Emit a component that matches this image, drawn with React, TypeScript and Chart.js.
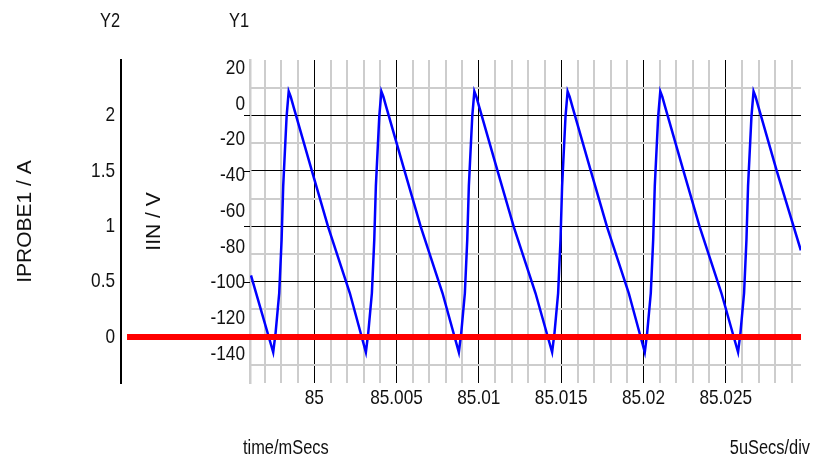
import React, { useEffect, useRef } from 'react';
import { Chart, registerables } from 'chart.js';

Chart.register(...registerables);

// IIN waveform (Y1, volts) against time (ms)
const timeMs = [
  84.99616,
  84.99751, 84.997656, 84.997874, 84.99802, 84.998117, 84.998324, 84.998451, 84.998573, 84.998755, 84.999842, 85.00085, 85.002168,
  85.003139, 85.003285, 85.003503, 85.003649, 85.003746, 85.003953, 85.00408, 85.004202, 85.004384, 85.005471, 85.006479, 85.007797,
  85.008787, 85.008933, 85.009151, 85.009297, 85.009394, 85.009601, 85.009728, 85.00985, 85.010032, 85.011119, 85.012127, 85.013445,
  85.014452, 85.014598, 85.014816, 85.014962, 85.015059, 85.015266, 85.015393, 85.015515, 85.015697, 85.016784, 85.017792, 85.01911,
  85.020081, 85.020227, 85.020445, 85.020591, 85.020688, 85.020895, 85.021022, 85.021144, 85.021326, 85.022413, 85.023421, 85.024739,
  85.025747, 85.025893, 85.026111, 85.026257, 85.026354, 85.026561, 85.026688, 85.02681, 85.026992, 85.028079,
  85.02956,
];
const iinV = [
  -96,
  -139, -128, -106, -76, -46, -7, 7, 4, -2, -37, -69, -106,
  -139, -128, -106, -76, -46, -7, 7, 4, -2, -37, -69, -106,
  -139, -128, -106, -76, -46, -7, 7, 4, -2, -37, -69, -106,
  -139, -128, -106, -76, -46, -7, 7, 4, -2, -37, -69, -106,
  -139, -128, -106, -76, -46, -7, 7, 4, -2, -37, -69, -106,
  -139, -128, -106, -76, -46, -7, 7, 4, -2, -37,
  -82,
];

// IPROBE1 trace (Y2, amps)
const probeTimeMs = [84.98863, 85.02957];
const iprobeA = [0, 0];

// axes
const xRange = [84.9961, 85.02957];
const xMajorTicks = [85, 85.005, 85.01, 85.015, 85.02, 85.025];
const xTickLabels = ['85', '85.005', '85.01', '85.015', '85.02', '85.025'];
const xMinorStep = 0.001;

const y1Range = [-156.2, 24.5];
const y1Ticks = [20, 0, -20, -40, -60, -80, -100, -120, -140];
const y1TickLabels = ['20', '0', '-20', '-40', '-60', '-80', '-100', '-120', '-140'];

const y2Range = [-0.415, 2.5];
const y2MajorTicks = [0, 0.5, 1, 1.5, 2];
const y2TickLabels = ['0', '0.5', '1', '1.5', '2'];
const y2MinorTicks = [-0.25, 0.25, 0.75, 1.25, 1.75, 2.25];

const NARROW = "'Liberation Sans Narrow', 'Liberation Sans', Arial, sans-serif";
const REGULAR = "'Liberation Sans', Arial, sans-serif";
const GRAY = '#cdcdcd';
const TEXT = '#111';
const NARROW_SCALE = 0.82;

const findIdx = (arr: number[], v: number) => arr.findIndex((m) => Math.abs(m - v) < 1e-7);

const xGridValues = (() => {
  const out: number[] = [];
  const a = Math.ceil(xRange[0] / xMinorStep - 1e-6);
  const b = Math.floor(xRange[1] / xMinorStep + 1e-6);
  for (let k = a; k <= b; k++) out.push(k / 1000);
  return out;
})();

const extras = {
  id: 'extras',
  beforeDatasetsDraw(chart: any) {
    const { ctx, chartArea, scales } = chart;
    const y2 = scales.y2;
    ctx.save();
    ctx.strokeStyle = '#000';
    ctx.lineWidth = 1;
    y2MajorTicks.forEach((v) => {
      const y = Math.round(y2.getPixelForValue(v)) + 0.5;
      ctx.beginPath();
      ctx.moveTo(chartArea.left - 6, y);
      ctx.lineTo(chartArea.left, y);
      ctx.stroke();
    });
    ctx.restore();
  },
  afterDraw(chart: any) {
    const { ctx, chartArea, scales } = chart;
    ctx.save();
    ctx.fillStyle = TEXT;
    ctx.font = `20px ${NARROW}`;
    ctx.textBaseline = 'middle';
    ctx.textAlign = 'center';
    ctx.fillText('Y2', scales.y2.right - 11, chartArea.top - 39);
    ctx.fillText('Y1', chartArea.left - 11, chartArea.top - 39);
    ctx.textAlign = 'left';
    ctx.fillText('time/mSecs', chartArea.left - 7, 448);
    ctx.textAlign = 'right';
    ctx.fillText('5uSecs/div', chartArea.right + 9, 448);
    ctx.restore();
  },
};

export default function App() {
  const ref = useRef<HTMLCanvasElement>(null);
  useEffect(() => {
    const canvas = ref.current;
    if (!canvas) return;
    const c2d: any = canvas.getContext('2d');
    const origFill = c2d.fillText;
    // condensed rendering for the narrow face (not installed): squeeze horizontally about the anchor
    c2d.fillText = function (text: string, x: number, y: number, maxWidth?: number) {
      if (/Narrow/.test(this.font)) {
        this.save();
        this.translate(x, y);
        this.scale(NARROW_SCALE, 1);
        origFill.call(this, text, 0, 0);
        this.restore();
      } else if (maxWidth === undefined) {
        origFill.call(this, text, x, y);
      } else {
        origFill.call(this, text, x, y, maxWidth);
      }
    };
    const chart = new Chart(canvas, {
      type: 'line',
      data: {
        datasets: [
          {
            label: 'IPROBE1',
            data: probeTimeMs.map((t, i) => ({ x: t, y: iprobeA[i] })),
            yAxisID: 'y2',
            borderColor: '#ff0000',
            borderWidth: 6,
            pointRadius: 0,
            borderCapStyle: 'butt',
            clip: { left: 130, top: 0, right: 0, bottom: 0 } as any,
          },
          {
            label: 'IIN',
            data: timeMs.map((t, i) => ({ x: t, y: iinV[i] })),
            yAxisID: 'y1',
            borderColor: '#0000ff',
            borderWidth: 2.5,
            pointRadius: 0,
            tension: 0,
          },
        ],
      },
      options: {
        animation: false,
        responsive: false,
        events: [],
        layout: { padding: { top: 60, right: 12, left: 0, bottom: 0 } },
        plugins: { legend: { display: false }, tooltip: { enabled: false } },
        scales: {
          x: {
            type: 'linear',
            min: xRange[0],
            max: xRange[1],
            afterBuildTicks: (s: any) => {
              s.ticks = xGridValues.map((v) => ({ value: v }));
            },
            afterFit: (s: any) => {
              s.height = 81;
            },
            grid: {
              color: (c: any) => (c.tick && findIdx(xMajorTicks, c.tick.value) >= 0 ? '#000' : GRAY),
              lineWidth: (c: any) => (c.tick && findIdx(xMajorTicks, c.tick.value) >= 0 ? 1 : 2),
              drawTicks: false,
            },
            border: { display: false },
            ticks: {
              autoSkip: false,
              maxRotation: 0,
              padding: 3,
              color: TEXT,
              font: { family: NARROW, size: 21 },
              callback: (v: any) => {
                const i = findIdx(xMajorTicks, Number(v));
                return i >= 0 ? xTickLabels[i] : '';
              },
            },
          },
          y1: {
            type: 'linear',
            position: 'left',
            weight: 0,
            min: y1Range[0],
            max: y1Range[1],
            afterBuildTicks: (s: any) => {
              s.ticks = y1Ticks.map((v) => ({ value: v }));
            },
            afterFit: (s: any) => {
              s.width = 129;
            },
            grid: { display: false, drawTicks: false },
            border: { display: true, color: GRAY, width: 2.5 },
            ticks: {
              autoSkip: false,
              padding: 5,
              color: TEXT,
              font: { family: NARROW, size: 21 },
              callback: (v: any) => {
                const i = findIdx(y1Ticks, Number(v));
                return i >= 0 ? y1TickLabels[i] : '';
              },
            },
            title: {
              display: true,
              text: 'IIN / V',
              color: TEXT,
              font: { family: REGULAR, size: 21 },
              padding: { top: 21, bottom: 0 },
            },
          },
          y2: {
            type: 'linear',
            position: 'left',
            weight: 1,
            min: y2Range[0],
            max: y2Range[1],
            afterBuildTicks: (s: any) => {
              s.ticks = [...y2MinorTicks, ...y2MajorTicks].sort((a, b) => a - b).map((v) => ({ value: v }));
            },
            afterFit: (s: any) => {
              s.width = 121;
            },
            grid: {
              color: (c: any) => (c.tick && findIdx(y2MajorTicks, c.tick.value) >= 0 ? '#000' : GRAY),
              lineWidth: (c: any) => (c.tick && findIdx(y2MajorTicks, c.tick.value) >= 0 ? 1 : 2),
              drawTicks: false,
            },
            border: { display: true, color: '#000', width: 2 },
            ticks: {
              autoSkip: false,
              padding: 6,
              color: TEXT,
              font: { family: NARROW, size: 21 },
              callback: (v: any) => {
                const i = findIdx(y2MajorTicks, Number(v));
                return i >= 0 ? y2TickLabels[i] : '';
              },
            },
            title: {
              display: true,
              text: 'IPROBE1 / A',
              color: TEXT,
              font: { family: REGULAR, size: 21 },
              padding: { top: 13, bottom: 0 },
            },
          },
        },
      },
      plugins: [extras],
    } as any);
    return () => {
      chart.destroy();
      c2d.fillText = origFill;
    };
  }, []);
  return (
    <div style={{ position: 'fixed', left: 0, top: 0, width: 813, height: 464, background: '#fff' }}>
      <canvas ref={ref} width={813} height={464} style={{ display: 'block' }} />
    </div>
  );
}
